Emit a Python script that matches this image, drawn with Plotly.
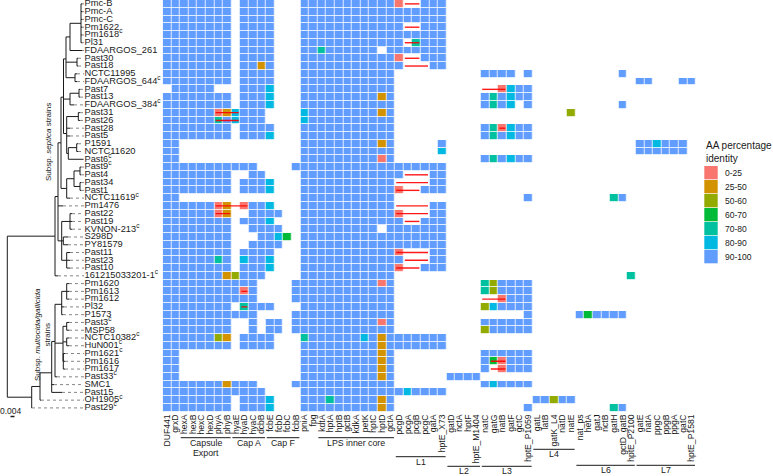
import plotly.graph_objects as go

# ---------------- data ----------------
genes = ["DUF441", "grxD", "hexA", "hexB", "hexC", "hexD", "phyA", "phyB",
         "hyaE", "hyaD", "hyaC", "dcbB", "fcbE", "fcbD", "fcbC", "fcbB",
         "pniA", "fpg", "kdtA", "hptA", "hptB", "gctB", "kdkA", "petK", "hptC", "hptD", "gctA",
         "pcgD", "pcgA", "pcgB", "pcgC", "gatA", "hptE_X73",
         "gatD", "nctA", "hptF", "hptE_M1404",
         "natC", "gatG", "natB", "gatF", "gctC", "hptE_P1059",
         "gatL", "latB", "gatK_L4", "natD", "natE",
         "nat_ps", "hetA", "gatJ", "nctB", "gatH", "gctD_gatB", "hptE_P2100",
         "gatE", "natA", "ppgC", "ppgB", "ppgA", "gatC", "hptE_P1581"]

strains = ["Pmc-B", "Pmc-A", "Pmc-C", "Pm1622", "Pm1618", "Pl31", "FDAARGOS_261",
           "Past30", "Past18", "NCTC11995", "FDAARGOS_644", "Past7", "Past13",
           "FDAARGOS_384", "Past31", "Past26", "Past28", "Past5", "P1591", "NCTC11620",
           "Past6", "Past9", "Past4", "Past34", "Past1", "NCTC11619", "Pm1476",
           "Past22", "Past19", "KVNON-213", "S298D", "PY81579", "Past11", "Past23",
           "Past10", "161215033201-1", "Pm1620", "Pm1613", "Pm1612", "Pl32", "P1573",
           "Past3", "MSP58", "NCTC10382", "HuN001", "Pm1621", "Pm1616", "Pm1617",
           "Past33", "SMC1", "Past15", "OH1905", "Past29"]

marked = ["Pm1618", "FDAARGOS_644", "FDAARGOS_384", "Past6", "Past9", "NCTC11619",
          "KVNON-213", "161215033201-1", "Past3", "NCTC10382", "HuN001", "Pm1621",
          "Past33", "OH1905", "Past29"]

categories = ["0-25", "25-50", "50-60", "60-70", "70-80", "80-90", "90-100"]
cat_colors = ["#F8766D", "#D39200", "#93AA00", "#00BA38", "#00C19F", "#00B9E3", "#619CFF"]

# '.' = gene absent, '1'..'7' = index of identity category
identity_rows = [
    "77777777 .7777... 77777777777 1..777 .... ...... ..... ....... .......",
    "77777777 .7777... 77777777777 777777 .... ...... ..... ....... .......",
    "77777777 .7777... 77777777777 777777 .... ...... ..... ....... .......",
    "77777777 .7777... 77777777777 7..777 .... ...... ..... ....... .......",
    "77777777 .7777... 77777777777 777777 .... ...... ..... ....... .......",
    "77777777 .7777... 77777777777 7.5777 .... ...... ..... ....... .......",
    "77777777 .7777... 775777777.7 777777 .... ...... ..... ....... .......",
    "77777777 .7777... 77777777777 1..777 .... ...... ..... ....... .......",
    "77777777 .7727... 77777777777 7...77 .... ...... ..... ....... .......",
    "77777777 .7777... 77777777777 ...... .... 7777.7 ..... .....7. .......",
    "77777777 .7777... 77777777777 ...... .... ...... ..... ....... 77...77",
    ".77777.. .7776... 77777777777 ...... .... ..1677 ..... ....... .......",
    "77777777 .7776... 77777777727 ...... .... 757677 ..... ....... .......",
    "77777777 .7776... 77777777777 ...... .... 7576.7 ..... .....7. .......",
    "77777712 6777.... 67777777727 ...... .... ...... ....3 ....... .......",
    "77777757 6777.... 67777777777 ...... .... ...... ..... ....... .......",
    "77777777 .7777... 77777777777 ...... .... 751677 ..... ....... .......",
    "77777777 .7776... 77777777777 ...... .... 757677 ..... ....... .......",
    "77...... ........ 77777777727 .....7 .... ...... ..... ....... 776777.",
    "77...... ........ 77777777777 .....6 .... ...... ..... ....... 777777.",
    "77...... ........ 77777777717 ...... .... 757677 ..... ....... .......",
    "77777777 777....7 77777777777 777777 .... ...... ..... ....... .......",
    "77777777 ..77.... 77777777777 7...77 .... ...... ..... ....... .......",
    "77777777 .7776... 77777777777 ....77 .... ...... ..... ....... .......",
    "77777777 .7776... 77777777777 1..777 .... ...... ..... ....... .......",
    "77...... ........ 77777777777 ...... .... .....7 ..... ....57. .......",
    "77777712 .1776... 77777777777 ....77 .... ...... ..... ....... .......",
    "77777712 ..7777.. 77777777777 1...77 .... ...... ..... ....... .......",
    "77777777 .7776... 77777777777 7..777 .... ...... ..... ....... .......",
    "77777777 ..7777.. 777777777.7 777777 .... ...... ..... ....... .......",
    "77777777 ...7764. 77777777777 777777 .... ...... ..... ....... .......",
    "77777777 ..7777.. 77777777777 777777 .... ...... ..... ....... .......",
    "77777777 .7777... 77777777777 1...77 .... ...... ..... ....... .......",
    "77777757 .6776... 77777777777 7...77 .... ...... ..... ....... .......",
    "77777777 .7776... 77777777777 1..777 .... ...... ..... ....... .......",
    "77777772 3777.... 77777777777 ...... .... ...... ..... ......5 .......",
    "77777777 777....7 77777777717 ...... .... 537777 ..... ....... .......",
    "77777777 717....7 77777777777 ...... .... 537777 ..... ....... .......",
    "77777777 777....7 77777777777 ...... .... ..1777 ..... ....... .......",
    "77777777 .5777... 77777777777 ...... .... 367777 ..... ....... .......",
    "77777777 777....7 77777777777 ...... .... .....7 ..... 747777. .......",
    "77777777 ..7.77.7 77777777717 ...... .... 777777 ..... ....... .......",
    "77777777 ..7.77.7 77777777777 ...... .... 377777 ..... ....... .......",
    "77777732 .7777... 57777776727 777777 .... ...... ..... ....... .......",
    "77777777 .7777... 77777777727 777777 .... ...... ..... ....... .......",
    "77...... ........ 77777777727 ...... .... 777777 ..... ....... .......",
    "77...... ........ 77777777727 ...... .... 741777 ..... ....... .......",
    "77...... ........ 77777777727 ...... .... 7.1777 ..... ....... .......",
    "77...... ........ 77777777727 ...... 7777 ...... ..... ....... .......",
    "77777772 777....7 77777777777 ...... .... 767777 ..... ....... .......",
    "77777777 7777.... 77777777777 767777 .... ...... ..... ....... .......",
    "77777777 .7776... 77757777727 ...... .... ...... 77377 ....... .......",
    "77777777 .7776... 77777777727 ...... .... .....7 ..... ....57. .......",
]

# truncated / split genes (red connector lines): strain, first gene, last gene
split_genes = [
    ("Pmc-B", "pcgA", "pcgB"), ("Pm1622", "pcgA", "pcgB"), ("Pl31", "pcgA", "pcgB"),
    ("Past30", "pcgA", "pcgB"), ("Past18", "pcgA", "pcgC"), ("Past7", "natC", "natB"),
    ("Past31", "phyA", "hyaE"), ("Past26", "phyA", "hyaE"), ("Past28", "natB", "natB"),
    ("Past4", "pcgA", "pcgC"), ("Past34", "pcgD", "pcgC"), ("Past1", "pcgD", "pcgB"),
    ("Pm1476", "phyA", "hyaD"), ("Pm1476", "pcgD", "pcgC"), ("Past22", "phyA", "phyB"),
    ("Past22", "pcgD", "pcgC"), ("Past19", "pcgA", "pcgB"), ("Past11", "pcgD", "pcgC"),
    ("Past23", "pcgA", "pcgC"), ("Past10", "pcgD", "pcgB"), ("Pm1613", "hyaD", "hyaD"),
    ("Pm1612", "natC", "natB"), ("Pl32", "hyaD", "hyaD"), ("Pm1616", "gatG", "natB"),
    ("Pm1617", "gatG", "natB"),
]

# gene groups: label lines, first gene, last gene
gene_groups = [(["Capsule", "Export"], "hexA", "phyB"), (["Cap A"], "hyaE", "dcbB"),
               (["Cap F"], "fcbE", "fcbB"), (["LPS inner core"], "kdtA", "gctA"),
               (["L1"], "pcgD", "hptE_X73"), (["L2"], "gatD", "hptE_M1404"),
               (["L3"], "natC", "hptE_P1059"), (["L4"], "gatL", "natE"),
               (["L6"], "nat_ps", "hptE_P2100"), (["L7"], "gatE", "hptE_P1581")]

# phylogeny: node, parent, depth (tree x units)
tree_nodes = [
    ("R", None, 7.3), ("S", "R", 55), ("S1", "S", 58), ("T1", "S1", 61), ("T2", "T1", 63.5),
    ("T3", "T2", 66), ("Q", "T3", 70), ("P", "Q", 81),
    ("Pmc-B", "P", 82.5), ("Pmc-A", "P", 82.5), ("Pmc-C", "P", 82.5), ("Pm1622", "P", 82.5),
    ("Pm1618", "P", 82), ("Pl31", "P", 82.5), ("FDAARGOS_261", "Q", 82),
    ("U", "T3", 77), ("Past30", "U", 78), ("Past18", "U", 78),
    ("V", "T3", 75), ("NCTC11995", "V", 77), ("FDAARGOS_644", "V", 77),
    ("W", "T2", 70), ("W1", "W", 79), ("Past7", "W1", 80), ("Past13", "W1", 80),
    ("FDAARGOS_384", "W", 74),
    ("T4", "T2", 66.7), ("X1", "T4", 78.3), ("Past31", "X1", 80), ("Past26", "X1", 80),
    ("Past28", "T4", 70), ("Past5", "T4", 70), ("X2", "T4", 68.3), ("X3", "X2", 76.7),
    ("P1591", "X3", 78), ("NCTC11620", "X3", 78), ("Past6", "X2", 83),
    ("T5", "T1", 66.7), ("Y1", "T5", 74), ("Y2", "Y1", 80), ("Past9", "Y2", 81),
    ("Past4", "Y2", 81), ("Y3", "Y1", 80), ("Past34", "Y3", 81), ("Past1", "Y3", 81),
    ("NCTC11619", "T5", 70), ("Pm1476", "S1", 63),
    ("T6", "S1", 61.7), ("Z1", "T6", 70), ("Past22", "Z1", 72), ("Past19", "Z1", 72),
    ("KVNON-213", "Z1", 72), ("Z2", "T6", 63.3), ("S298D", "Z2", 68), ("PY81579", "Z2", 68),
    ("Z3", "T6", 66.7), ("Past11", "Z3", 70), ("Past23", "Z3", 70), ("Past10", "Z3", 70),
    ("161215033201-1", "S", 58),
    ("M0", "R", 31.7), ("Past29", "M0", 32), ("M1", "M0", 40), ("OH1905", "M1", 41),
    ("M2", "M1", 51.7), ("M3", "M2", 55), ("M4", "M3", 61.7), ("M6", "M4", 66.7),
    ("Pm1620", "M6", 69), ("Pm1613", "M6", 69), ("Pm1612", "M6", 69),
    ("Pl32", "M4", 64), ("P1573", "M4", 63), ("M5", "M3", 63), ("M7", "M5", 66.7),
    ("Past3", "M7", 69), ("MSP58", "M7", 69), ("M8", "M5", 66.7), ("NCTC10382", "M8", 69),
    ("HuN001", "M8", 69), ("M9", "M5", 63.3), ("Pm1621", "M9", 65), ("Pm1616", "M9", 65),
    ("Pm1617", "M9", 65), ("Past33", "M3", 57), ("SMC1", "M2", 54), ("Past15", "M2", 62),
]

# ---------------- layout constants (pixels) ----------------
W, H = 773, 476
HM_X0, HM_X1 = 162.7, 695.9
HM_Y1 = 411.8
LABEL_X = 84.5
FONT = "Liberation Sans, Arial, sans-serif"
TXT = "#1a1a1a"
group_line_px = [437.7, 437.7, 437.7, 437.7, 456.7, 466.3, 466.3, 449.3, 465.3, 465.3]


def py(p):
    return 1 - p / H


gidx = {g: i + 1 for i, g in enumerate(genes)}
sidx = {s: i + 1 for i, s in enumerate(strains)}

z = []
for row in identity_rows:
    codes = row.replace(" ", "")
    z.append([None if ch == "." else int(ch) for ch in codes])

cscale = []
n = len(categories)
for i, c in enumerate(cat_colors):
    cscale.append([i / n, c])
    cscale.append([(i + 1) / n, c])

fig = go.Figure()
fig.add_trace(go.Heatmap(
    x=list(range(1, len(genes) + 1)), y=list(range(1, len(strains) + 1)), z=z,
    colorscale=cscale, zmin=0.5, zmax=n + 0.5, showscale=False, xgap=0.8, ygap=0.8,
    hoverinfo="skip"))

# red connector lines
lx, ly = [], []
for s, g0, g1 in split_genes:
    lx += [gidx[g0] - 0.35, gidx[g1] + 0.35, None]
    ly += [sidx[s], sidx[s], None]
fig.add_trace(go.Scatter(x=lx, y=ly, mode="lines", line=dict(color="rgba(255,0,0,0.9)", width=1.4),
                         hoverinfo="skip", showlegend=False))

# tree
node_x = {nm: x for nm, p, x in tree_nodes}
children = {}
for nm, p, x in tree_nodes:
    if p is not None:
        children.setdefault(p, []).append(nm)
node_y = {}


def get_y(nm):
    if nm in node_y:
        return node_y[nm]
    if nm in sidx:
        node_y[nm] = sidx[nm]
    else:
        ys = [get_y(c) for c in children[nm]]
        node_y[nm] = sum(ys) / len(ys)
    return node_y[nm]


for nm, p, x in tree_nodes:
    get_y(nm)

tx, ty = [], []
for nm, p, x in tree_nodes:
    if p is not None:
        tx += [node_x[p], x, None]
        ty += [node_y[nm], node_y[nm], None]
    if nm in children:
        ys = [node_y[c] for c in children[nm]]
        tx += [x, x, None]
        ty += [min(ys), max(ys), None]
fig.add_trace(go.Scatter(x=tx, y=ty, mode="lines", xaxis="x2", yaxis="y",
                         line=dict(color="#1a1a1a", width=1), hoverinfo="skip", showlegend=False))
dx, dy = [], []
for s in strains:
    dx += [node_x[s], LABEL_X - 0.5, None]
    dy += [sidx[s], sidx[s], None]
fig.add_trace(go.Scatter(x=dx, y=dy, mode="lines", xaxis="x2", yaxis="y",
                         line=dict(color="#666666", width=0.8, dash="dot"),
                         hoverinfo="skip", showlegend=False))
labels = [s + ("<sup>c</sup>" if s in marked else "") for s in strains]
fig.add_trace(go.Scatter(x=[LABEL_X] * len(strains), y=list(range(1, len(strains) + 1)),
                         mode="text", text=labels, textposition="middle right",
                         textfont=dict(family=FONT, size=9.3, color=TXT),
                         xaxis="x2", yaxis="y", hoverinfo="skip", showlegend=False,
                         cliponaxis=False))

shapes, annotations = [], []
# gene group brackets
for (lines, g0, g1), lp in zip(gene_groups, group_line_px):
    x0, x1 = gidx[g0] - 0.4, gidx[g1] + 0.4
    shapes.append(dict(type="line", xref="x", yref="paper", x0=x0, x1=x1, y0=py(lp), y1=py(lp),
                       line=dict(color=TXT, width=1)))
    for k, lab in enumerate(lines):
        annotations.append(dict(xref="x", yref="paper", x=(gidx[g0] + gidx[g1]) / 2,
                                y=py(lp + 5.0 + 10.5 * k), yanchor="middle", xanchor="center",
                                text=lab, showarrow=False,
                                font=dict(family=FONT, size=8.8, color=TXT)))

# clade labels
annotations.append(dict(xref="paper", yref="paper", x=48 / W, y=py(142), xanchor="center", yanchor="middle",
                        text="Subsp. <i>septica</i> strains",
                        textangle=-90, showarrow=False, font=dict(family=FONT, size=8, color=TXT)))
annotations.append(dict(xref="paper", yref="paper", x=42 / W, y=py(335), xanchor="center", yanchor="middle",
                        text="Subsp. <i>multocida/gallicida</i><br>strains",
                        textangle=-90, showarrow=False, font=dict(family=FONT, size=8, color=TXT)))
# scale bar
annotations.append(dict(xref="paper", yref="paper", x=11 / W, y=py(410.5), xanchor="center", yanchor="middle",
                        text="0.004", showarrow=False, font=dict(family=FONT, size=8.5, color=TXT)))
shapes.append(dict(type="line", xref="paper", yref="paper", x0=10.5 / W, x1=14.5 / W,
                   y0=py(416.5), y1=py(416.5), line=dict(color=TXT, width=1.5)))

# legend
annotations.append(dict(xref="paper", yref="paper", x=703.5 / W, y=py(138), xanchor="left", yanchor="top",
                        align="left", text="AA percentage<br>identity", showarrow=False,
                        font=dict(family=FONT, size=10, color=TXT)))
for i, (lab, col) in enumerate(zip(categories, cat_colors)):
    top = 166 + 14 * i
    shapes.append(dict(type="rect", xref="paper", yref="paper", x0=704.3 / W, x1=717.7 / W,
                       y0=py(top + 13.3), y1=py(top), fillcolor=col, line=dict(width=0)))
    annotations.append(dict(xref="paper", yref="paper", x=722.5 / W, y=py(top + 6.7), xanchor="left",
                            yanchor="middle", text=lab, showarrow=False,
                            font=dict(family=FONT, size=8.5, color=TXT)))

fig.update_layout(
    width=W, height=H, margin=dict(l=0, r=0, t=0, b=0),
    paper_bgcolor="white", plot_bgcolor="white", showlegend=False,
    shapes=shapes, annotations=annotations,
    xaxis=dict(domain=[HM_X0 / W, HM_X1 / W], range=[0.5, len(genes) + 0.5],
               tickvals=list(range(1, len(genes) + 1)), ticktext=genes, tickangle=-90,
               tickfont=dict(family=FONT, size=8.6, color=TXT), ticks="",
               showgrid=False, zeroline=False, showline=False, anchor="y"),
    yaxis=dict(domain=[1 - HM_Y1 / H, 1], range=[len(strains) + 0.5, 0.5],
               showticklabels=False, showgrid=False, zeroline=False, ticks=""),
    xaxis2=dict(domain=[0, HM_X0 / W], range=[0, HM_X0], visible=False, anchor="y"),
)

fig.write_html("out.html")
